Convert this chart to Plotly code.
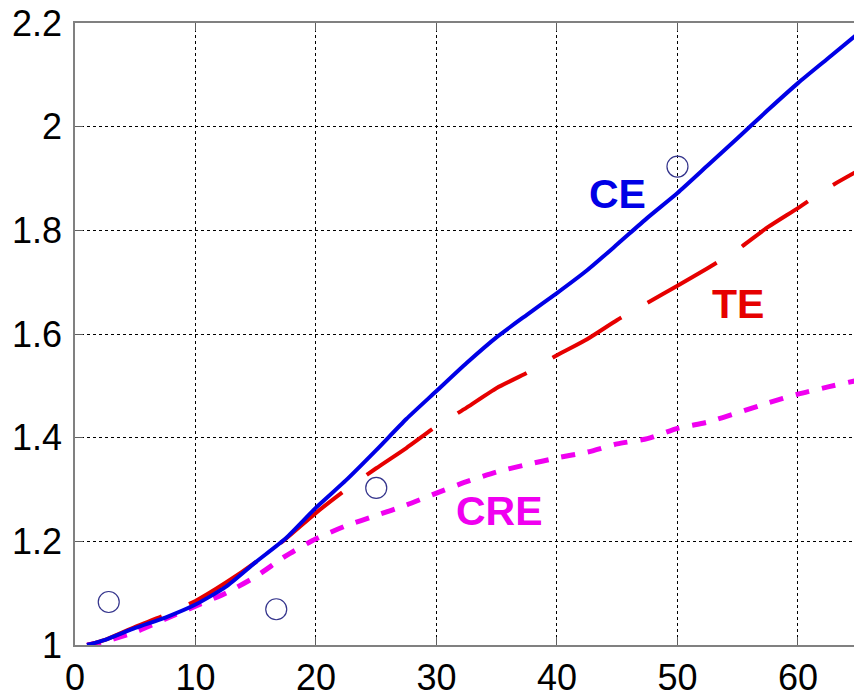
import plotly.graph_objects as go

x_vals = [1, 2.5, 5, 7.5, 10, 12.5, 15, 17.5, 20, 22.5, 25, 27.5, 30, 32.5, 35,
          37.5, 40, 42.5, 45, 47.5, 50, 52.5, 55, 57.5, 60, 62.5, 65]
ce = [1.0, 1.01, 1.033, 1.053, 1.078, 1.112, 1.16, 1.206, 1.265, 1.318, 1.376, 1.436,
      1.49, 1.544, 1.594, 1.637, 1.679, 1.723, 1.773, 1.824, 1.872, 1.925, 1.978,
      2.032, 2.084, 2.132, 2.18]
te = [1.0, 1.01, 1.035, 1.058, 1.085, 1.12, 1.16, 1.205, 1.255, 1.30, 1.341, 1.38,
      1.422, 1.458, 1.496, 1.525, 1.559, 1.59, 1.627, 1.66, 1.693, 1.727, 1.763,
      1.806, 1.843, 1.882, 1.915]
cre = [1.0, 1.007, 1.025, 1.05, 1.075, 1.10, 1.132, 1.172, 1.205, 1.23, 1.25, 1.27,
       1.293, 1.315, 1.334, 1.348, 1.361, 1.372, 1.388, 1.398, 1.418, 1.43, 1.448,
       1.467, 1.484, 1.498, 1.511]

circle_x = [2.8, 16.7, 25, 50]
circle_y = [1.083, 1.069, 1.303, 1.923]

labels = ["CE", "TE", "CRE"]
label_x = [45.0, 55.06, 35.27]
label_y = [1.870, 1.658, 1.258]
label_colors = ["#0000E6", "#E60000", "#F000F0"]

x_ticks = [0, 10, 20, 30, 40, 50, 60]
y_ticks = [1, 1.2, 1.4, 1.6, 1.8, 2, 2.2]
y_tick_text = ["1", "1.2", "1.4", "1.6", "1.8", "2", "2.2"]

fig = go.Figure()
fig.add_trace(go.Scatter(x=x_vals, y=cre, mode="lines",
                         line=dict(color="#F000F0", width=5, dash="14px,13px",
                                   shape="spline", smoothing=0.6)))
fig.add_trace(go.Scatter(x=x_vals, y=te, mode="lines",
                         line=dict(color="#E60000", width=4, dash="80px,30px",
                                   shape="spline", smoothing=0.6)))
fig.add_trace(go.Scatter(x=x_vals, y=ce, mode="lines",
                         line=dict(color="#0000E6", width=4,
                                   shape="spline", smoothing=0.6)))
fig.add_trace(go.Scatter(x=circle_x, y=circle_y, mode="markers",
                         marker=dict(symbol="circle-open", size=21,
                                     color="#34348C", line=dict(width=1.2, color="#34348C"))))

for t, lx, ly, c in zip(labels, label_x, label_y, label_colors):
    fig.add_annotation(x=lx, y=ly, text="<b>%s</b>" % t, showarrow=False,
                       font=dict(family="Liberation Sans", size=41, color=c),
                       xanchor="center", yanchor="middle")

axis_common = dict(
    showgrid=True, gridcolor="black", gridwidth=1, griddash="dot",
    showline=True, linecolor="#808080", linewidth=1.5,
    ticks="inside", ticklen=8, tickcolor="#606060", tickwidth=1,
    zeroline=False,
    tickfont=dict(family="Liberation Sans", size=36, color="black"),
)

fig.update_xaxes(range=[0, 64.65], tickvals=x_ticks, mirror="ticks",
                 ticklabelstandoff=0, **axis_common)
fig.update_yaxes(range=[1, 2.2], tickvals=y_ticks, ticktext=y_tick_text,
                 mirror=False, ticklabelstandoff=4, **axis_common)

fig.update_layout(
    width=854, height=691,
    margin=dict(l=75, r=0, t=23, b=46, autoexpand=False),
    plot_bgcolor="white", paper_bgcolor="white",
    showlegend=False,
)

fig.write_html("out.html")
